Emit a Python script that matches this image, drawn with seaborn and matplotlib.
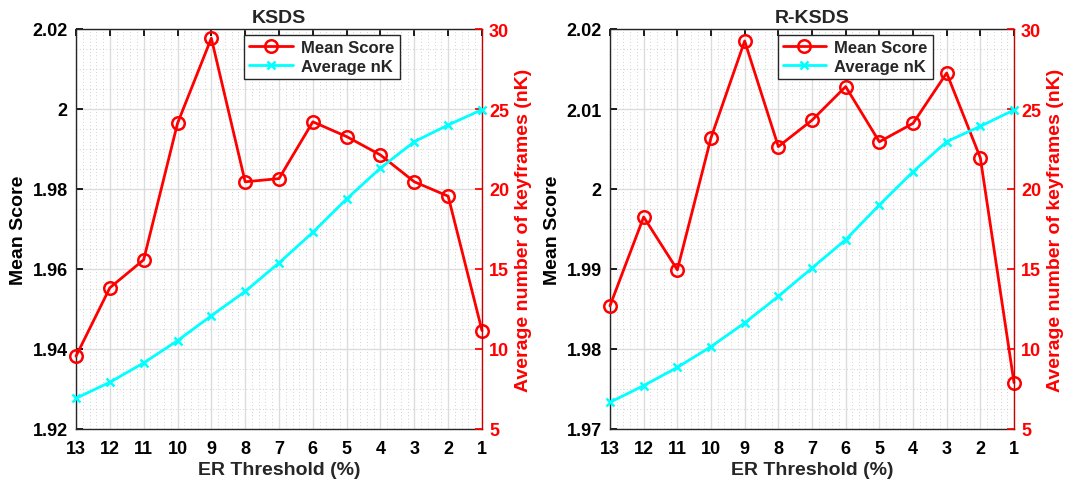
import numpy as np
import pandas as pd
import seaborn as sns
import matplotlib.pyplot as plt
from matplotlib.ticker import AutoMinorLocator, FuncFormatter, MultipleLocator
from matplotlib.lines import Line2D

# ER thresholds (x axis, shown descending)
er_threshold = [13, 12, 11, 10, 9, 8, 7, 6, 5, 4, 3, 2, 1]

# KSDS
ksds_score = [1.9382, 1.9553, 1.9623, 1.9964, 2.0177, 1.9818, 1.9826,
              1.9968, 1.9931, 1.9885, 1.9818, 1.9782, 1.9446]
ksds_nk = [6.92, 7.92, 9.13, 10.52, 12.08, 13.6, 15.38,
           17.29, 19.38, 21.31, 22.96, 24.0, 24.96]

# R-KSDS
rksds_score = [1.9854, 1.9965, 1.9899, 2.0064, 2.0185, 2.0053, 2.0086,
               2.0128, 2.0059, 2.0082, 2.0145, 2.0039, 1.9758]
rksds_nk = [6.67, 7.71, 8.85, 10.15, 11.63, 13.29, 15.06,
            16.83, 19.0, 21.08, 22.96, 23.92, 24.94]

sns.set_theme(style="white")
plt.rcParams['font.family'] = ['Liberation Sans', 'DejaVu Sans']
plt.rcParams['font.weight'] = 'bold'
plt.rcParams['axes.labelweight'] = 'bold'
plt.rcParams['axes.titleweight'] = 'bold'

RED = '#ff0000'
CYAN = '#00ffff'


def draw_panel(ax, title, score, nk, ylim, ystep):
    df = pd.DataFrame({'ER': er_threshold, 'score': score, 'nk': nk})
    ax2 = ax.twinx()

    sns.lineplot(data=df, x='ER', y='score', ax=ax, color=RED, lw=2,
                 marker='o', markersize=9, markerfacecolor='none',
                 markeredgecolor=RED, markeredgewidth=1.8, clip_on=False, zorder=3)
    sns.lineplot(data=df, x='ER', y='nk', ax=ax2, color=CYAN, lw=2,
                 marker='x', markersize=6, markeredgecolor=CYAN,
                 markeredgewidth=1.8, clip_on=False, zorder=3)

    ax.set_xlim(13, 1)
    ax.set_ylim(*ylim)
    ax2.set_ylim(5, 30)
    ax.set_xticks(er_threshold)
    ax.yaxis.set_major_locator(MultipleLocator(ystep))
    ax.yaxis.set_major_formatter(FuncFormatter(lambda v, p: '%g' % round(v, 4)))
    ax2.set_yticks([5, 10, 15, 20, 25, 30])

    # fine dotted minor grid like the original
    ax.xaxis.set_minor_locator(AutoMinorLocator(5))
    ax.yaxis.set_minor_locator(AutoMinorLocator(4))
    ax.grid(True, which='major', color='#dcdcdc', lw=1.0, ls='-')
    ax.grid(True, which='minor', color='#c4c4c4', lw=0.6, ls=(0, (1, 3)))
    ax.set_axisbelow(True)

    ax.tick_params(axis='x', which='major', direction='in', length=5,
                   labelsize=13, top=True, colors='black', pad=8)
    ax.tick_params(axis='y', which='major', direction='in', length=5,
                   labelsize=13, colors='black', pad=6)
    ax.tick_params(axis='both', which='minor', length=0)
    ax2.tick_params(axis='y', direction='in', length=5, labelsize=13,
                    colors=RED, pad=5)
    for lab in ax.get_xticklabels() + ax.get_yticklabels() + ax2.get_yticklabels():
        lab.set_fontweight('bold')

    for s in ['left', 'bottom', 'top']:
        ax.spines[s].set_color('#262626')
        ax.spines[s].set_linewidth(1.0)
    ax.spines['right'].set_visible(False)
    for s in ['left', 'bottom', 'top']:
        ax2.spines[s].set_visible(False)
    ax2.spines['right'].set_color('#cc0000')
    ax2.spines['right'].set_linewidth(1.0)

    ax.set_title(title, fontsize=14, fontweight='bold', pad=5)
    ax.set_xlabel('ER Threshold (%)', fontsize=14, fontweight='bold', labelpad=3)
    ax.set_ylabel('Mean Score', fontsize=14, fontweight='bold', color='black', labelpad=4)
    ax2.set_ylabel('Average number of keyframes (nK)', fontsize=14,
                   fontweight='bold', color=RED, labelpad=4)

    handles = [
        Line2D([], [], color=RED, lw=2, marker='o', markersize=9,
               markerfacecolor='none', markeredgewidth=1.8),
        Line2D([], [], color=CYAN, lw=2, marker='x', markersize=6,
               markeredgewidth=1.8),
    ]
    leg = ax2.legend(handles, ['Mean Score', 'Average nK'], loc='upper left',
                     bbox_to_anchor=(0.415, 0.985), fancybox=False, framealpha=1,
                     edgecolor='#262626', fontsize=12, handlelength=2.6,
                     borderpad=0.3, labelspacing=0.25, handletextpad=0.5,
                     borderaxespad=0)
    leg.get_frame().set_linewidth(1.0)
    for t in leg.get_texts():
        t.set_fontweight('bold')
    return ax2


fig = plt.figure(figsize=(10.74, 4.85), dpi=100)
ax_l = fig.add_axes([76 / 1074, 55 / 485, 406 / 1074, 400 / 485])
ax_r = fig.add_axes([610 / 1074, 55 / 485, 404 / 1074, 400 / 485])

draw_panel(ax_l, 'KSDS', ksds_score, ksds_nk, (1.92, 2.02), 0.02)
draw_panel(ax_r, 'R-KSDS', rksds_score, rksds_nk, (1.97, 2.02), 0.01)

fig.savefig('out.png', dpi=100)
